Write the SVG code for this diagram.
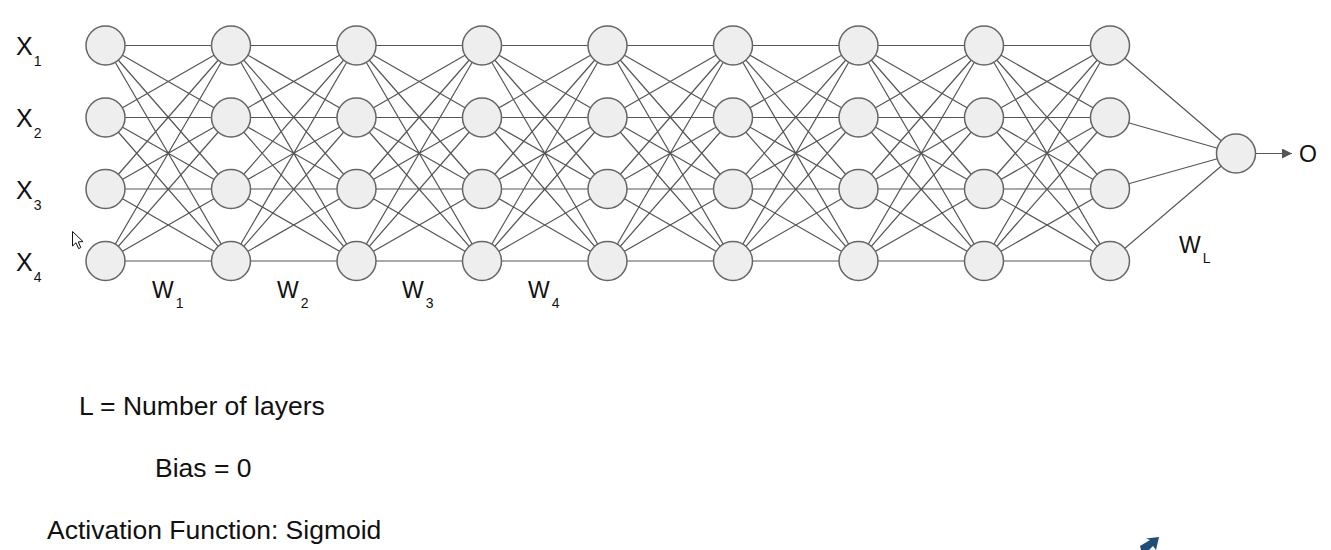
<svg xmlns="http://www.w3.org/2000/svg" width="1331" height="550" viewBox="0 0 1331 550">
<defs>
<style>
.n{fill:#eeeeee;stroke:#666666;stroke-width:1.5}
.e{stroke:#555555;stroke-width:1.2;fill:none}
.t{font-family:"Liberation Sans",Arial,sans-serif;fill:#111111}
.lbl{font-size:25px}
.sub{font-size:14px}
.w{font-size:23px}
.big{font-size:26.5px}
</style>
<marker id="ah" viewBox="0 0 10 10" refX="10" refY="5" markerWidth="14" markerHeight="10" markerUnits="userSpaceOnUse" orient="auto">
<path d="M0,0 L10,5 L0,10 z" fill="#555555"/>
</marker>
</defs>
<rect width="1331" height="550" fill="#ffffff"/>
<g id="connectors">
<path class="e" d="M105.5,45.5L231,45.5M105.5,45.5L231,117.5M105.5,45.5L231,189M105.5,45.5L231,261M105.5,117.5L231,45.5M105.5,117.5L231,117.5M105.5,117.5L231,189M105.5,117.5L231,261M105.5,189L231,45.5M105.5,189L231,117.5M105.5,189L231,189M105.5,189L231,261M105.5,261L231,45.5M105.5,261L231,117.5M105.5,261L231,189M105.5,261L231,261"/>
<path class="e" d="M231,45.5L356.5,45.5M231,45.5L356.5,117.5M231,45.5L356.5,189M231,45.5L356.5,261M231,117.5L356.5,45.5M231,117.5L356.5,117.5M231,117.5L356.5,189M231,117.5L356.5,261M231,189L356.5,45.5M231,189L356.5,117.5M231,189L356.5,189M231,189L356.5,261M231,261L356.5,45.5M231,261L356.5,117.5M231,261L356.5,189M231,261L356.5,261"/>
<path class="e" d="M356.5,45.5L482,45.5M356.5,45.5L482,117.5M356.5,45.5L482,189M356.5,45.5L482,261M356.5,117.5L482,45.5M356.5,117.5L482,117.5M356.5,117.5L482,189M356.5,117.5L482,261M356.5,189L482,45.5M356.5,189L482,117.5M356.5,189L482,189M356.5,189L482,261M356.5,261L482,45.5M356.5,261L482,117.5M356.5,261L482,189M356.5,261L482,261"/>
<path class="e" d="M482,45.5L607.5,45.5M482,45.5L607.5,117.5M482,45.5L607.5,189M482,45.5L607.5,261M482,117.5L607.5,45.5M482,117.5L607.5,117.5M482,117.5L607.5,189M482,117.5L607.5,261M482,189L607.5,45.5M482,189L607.5,117.5M482,189L607.5,189M482,189L607.5,261M482,261L607.5,45.5M482,261L607.5,117.5M482,261L607.5,189M482,261L607.5,261"/>
<path class="e" d="M607.5,45.5L733,45.5M607.5,45.5L733,117.5M607.5,45.5L733,189M607.5,45.5L733,261M607.5,117.5L733,45.5M607.5,117.5L733,117.5M607.5,117.5L733,189M607.5,117.5L733,261M607.5,189L733,45.5M607.5,189L733,117.5M607.5,189L733,189M607.5,189L733,261M607.5,261L733,45.5M607.5,261L733,117.5M607.5,261L733,189M607.5,261L733,261"/>
<path class="e" d="M733,45.5L858.5,45.5M733,45.5L858.5,117.5M733,45.5L858.5,189M733,45.5L858.5,261M733,117.5L858.5,45.5M733,117.5L858.5,117.5M733,117.5L858.5,189M733,117.5L858.5,261M733,189L858.5,45.5M733,189L858.5,117.5M733,189L858.5,189M733,189L858.5,261M733,261L858.5,45.5M733,261L858.5,117.5M733,261L858.5,189M733,261L858.5,261"/>
<path class="e" d="M858.5,45.5L984,45.5M858.5,45.5L984,117.5M858.5,45.5L984,189M858.5,45.5L984,261M858.5,117.5L984,45.5M858.5,117.5L984,117.5M858.5,117.5L984,189M858.5,117.5L984,261M858.5,189L984,45.5M858.5,189L984,117.5M858.5,189L984,189M858.5,189L984,261M858.5,261L984,45.5M858.5,261L984,117.5M858.5,261L984,189M858.5,261L984,261"/>
<path class="e" d="M984,45.5L1110,45.5M984,45.5L1110,117.5M984,45.5L1110,189M984,45.5L1110,261M984,117.5L1110,45.5M984,117.5L1110,117.5M984,117.5L1110,189M984,117.5L1110,261M984,189L1110,45.5M984,189L1110,117.5M984,189L1110,189M984,189L1110,261M984,261L1110,45.5M984,261L1110,117.5M984,261L1110,189M984,261L1110,261"/>
<path class="e" d="M1110,45.5L1236,153.5M1110,117.5L1236,153.5M1110,189L1236,153.5M1110,261L1236,153.5"/>
<line class="e" x1="1255.5" y1="153.5" x2="1292" y2="153.5" marker-end="url(#ah)"/>
</g>
<g id="layer1">
<circle class="n" cx="105.5" cy="45.5" r="19.5"/><circle class="n" cx="105.5" cy="117.5" r="19.5"/><circle class="n" cx="105.5" cy="189" r="19.5"/><circle class="n" cx="105.5" cy="261" r="19.5"/>
</g>
<g id="layer2">
<circle class="n" cx="231" cy="45.5" r="19.5"/><circle class="n" cx="231" cy="117.5" r="19.5"/><circle class="n" cx="231" cy="189" r="19.5"/><circle class="n" cx="231" cy="261" r="19.5"/>
</g>
<g id="layer3">
<circle class="n" cx="356.5" cy="45.5" r="19.5"/><circle class="n" cx="356.5" cy="117.5" r="19.5"/><circle class="n" cx="356.5" cy="189" r="19.5"/><circle class="n" cx="356.5" cy="261" r="19.5"/>
</g>
<g id="layer4">
<circle class="n" cx="482" cy="45.5" r="19.5"/><circle class="n" cx="482" cy="117.5" r="19.5"/><circle class="n" cx="482" cy="189" r="19.5"/><circle class="n" cx="482" cy="261" r="19.5"/>
</g>
<g id="layer5">
<circle class="n" cx="607.5" cy="45.5" r="19.5"/><circle class="n" cx="607.5" cy="117.5" r="19.5"/><circle class="n" cx="607.5" cy="189" r="19.5"/><circle class="n" cx="607.5" cy="261" r="19.5"/>
</g>
<g id="layer6">
<circle class="n" cx="733" cy="45.5" r="19.5"/><circle class="n" cx="733" cy="117.5" r="19.5"/><circle class="n" cx="733" cy="189" r="19.5"/><circle class="n" cx="733" cy="261" r="19.5"/>
</g>
<g id="layer7">
<circle class="n" cx="858.5" cy="45.5" r="19.5"/><circle class="n" cx="858.5" cy="117.5" r="19.5"/><circle class="n" cx="858.5" cy="189" r="19.5"/><circle class="n" cx="858.5" cy="261" r="19.5"/>
</g>
<g id="layer8">
<circle class="n" cx="984" cy="45.5" r="19.5"/><circle class="n" cx="984" cy="117.5" r="19.5"/><circle class="n" cx="984" cy="189" r="19.5"/><circle class="n" cx="984" cy="261" r="19.5"/>
</g>
<g id="layer9">
<circle class="n" cx="1110" cy="45.5" r="19.5"/><circle class="n" cx="1110" cy="117.5" r="19.5"/><circle class="n" cx="1110" cy="189" r="19.5"/><circle class="n" cx="1110" cy="261" r="19.5"/>
</g>
<g id="output">
<circle class="n" cx="1236" cy="153.5" r="19.5"/>
<text class="t" x="1299" y="162" font-size="23">O</text>
</g>
<g id="inputs">
<text class="t lbl" x="16" y="55">X<tspan class="sub" dx="1" dy="11">1</tspan></text>
<text class="t lbl" x="16" y="127">X<tspan class="sub" dx="1" dy="11">2</tspan></text>
<text class="t lbl" x="16" y="199">X<tspan class="sub" dx="1" dy="11">3</tspan></text>
<text class="t lbl" x="16" y="271">X<tspan class="sub" dx="1" dy="11">4</tspan></text>
</g>
<g id="weights">
<text class="t w" x="152" y="298">W<tspan class="sub" dx="2" dy="10">1</tspan></text>
<text class="t w" x="277" y="298">W<tspan class="sub" dx="2" dy="10">2</tspan></text>
<text class="t w" x="402" y="298">W<tspan class="sub" dx="2" dy="10">3</tspan></text>
<text class="t w" x="528" y="298">W<tspan class="sub" dx="2" dy="10">4</tspan></text>
<text class="t w" x="1179" y="253">W<tspan class="sub" dx="2" dy="10">L</tspan></text>
</g>
<g id="notes">
<text class="t big" x="79" y="415">L = Number of layers</text>
<text class="t big" x="155" y="477">Bias = 0</text>
<text class="t big" x="47" y="539">Activation Function: Sigmoid</text>
</g>
<g id="cursor">
<path d="M72.5,231.5 L72.5,246 L76,242.8 L78.6,248.6 L80.8,247.6 L78.3,241.9 L83,241.6 Z" fill="#ffffff" stroke="#111111" stroke-width="1"/>
</g>
<path d="M1140,546 L1150,540 L1146,538.5 L1159,537 L1156,550 L1153,546 L1149,550 L1141,550 Z" fill="#1f4e79"/>
</svg>
